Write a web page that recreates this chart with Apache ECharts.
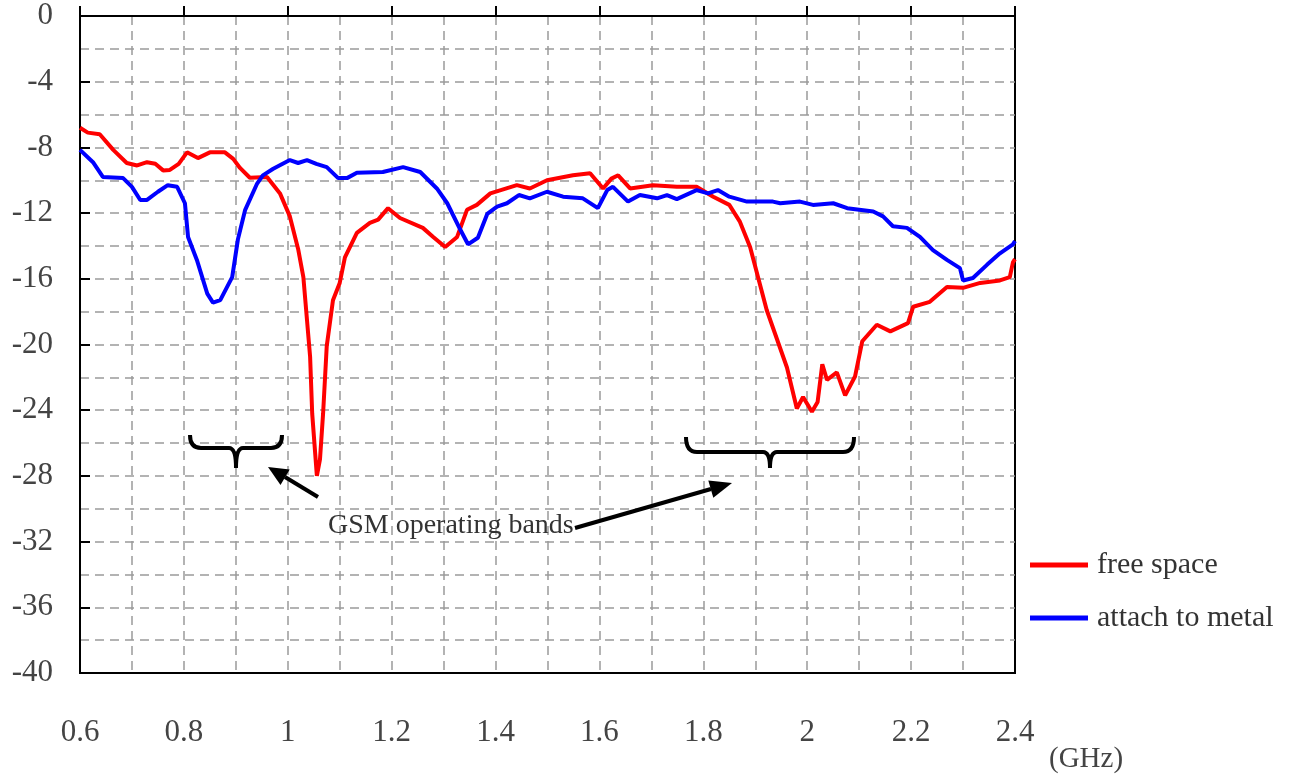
<!DOCTYPE html>
<html>
<head>
<meta charset="utf-8">
<script src="https://cdn.jsdelivr.net/npm/echarts@6/dist/echarts.min.js"></script>
<style>
  html, body { margin: 0; padding: 0; background: #fff; }
  #chart { width: 1299px; height: 780px; }
</style>
</head>
<body>
<div id="chart"></div>
<script>
// frequency (GHz) / return loss (dB)
var freeFreq = [0.600, 0.615, 0.638, 0.664, 0.690, 0.710, 0.729, 0.745, 0.760, 0.773, 0.790, 0.806, 0.827, 0.850, 0.879, 0.895, 0.908, 0.927, 0.960, 0.985,
  1.004, 1.020, 1.030, 1.043, 1.047, 1.056, 1.062, 1.068, 1.075, 1.087, 1.100, 1.110, 1.133, 1.158, 1.174, 1.193, 1.216, 1.260, 1.280, 1.303,
  1.326, 1.345, 1.364, 1.390, 1.441, 1.466, 1.499, 1.549, 1.582, 1.607, 1.623, 1.636, 1.659, 1.703, 1.749, 1.787, 1.819, 1.850, 1.870, 1.890,
  1.922, 1.961, 1.980, 1.992, 2.009, 2.020, 2.029, 2.038, 2.057, 2.073, 2.092, 2.106, 2.134, 2.160, 2.194, 2.204, 2.236, 2.269, 2.300, 2.333,
  2.371, 2.390, 2.396, 2.400];
var freeLoss = [-6.8, -7.1, -7.2, -8.15, -8.95, -9.1, -8.9, -9.0, -9.4, -9.37, -9.0, -8.3, -8.65, -8.3, -8.3, -8.7, -9.25, -9.85, -9.8, -10.8,
  -12.2, -14.2, -15.9, -20.75, -24.2, -28.0, -27.0, -24.2, -20.1, -17.3, -16.25, -14.7, -13.2, -12.6, -12.4, -11.7, -12.3, -12.9, -13.45, -14.06,
  -13.45, -11.8, -11.5, -10.8, -10.3, -10.5, -10.0, -9.7, -9.57, -10.5, -9.9, -9.7, -10.5, -10.3, -10.4, -10.4, -11.0, -11.5, -12.5, -14.06,
  -17.9, -21.4, -23.9, -23.2, -24.1, -23.5, -21.2, -22.15, -21.7, -23.1, -21.95, -19.8, -18.8, -19.2, -18.7, -17.7, -17.4, -16.5, -16.55, -16.25,
  -16.1, -15.9, -15.0, -14.8];

var metalFreq = [0.600, 0.625, 0.644, 0.683, 0.700, 0.716, 0.729, 0.750, 0.769, 0.787, 0.802, 0.808, 0.825, 0.845, 0.856, 0.870, 0.893, 0.904, 0.918, 0.941,
  0.952, 0.972, 1.004, 1.020, 1.037, 1.055, 1.075, 1.097, 1.114, 1.133, 1.183, 1.222, 1.255, 1.287, 1.307, 1.332, 1.347, 1.366, 1.384, 1.403,
  1.422, 1.445, 1.466, 1.499, 1.530, 1.568, 1.597, 1.615, 1.626, 1.655, 1.678, 1.711, 1.730, 1.749, 1.787, 1.809, 1.828, 1.850, 1.884, 1.934,
  1.948, 1.986, 2.011, 2.050, 2.077, 2.127, 2.146, 2.165, 2.192, 2.217, 2.242, 2.269, 2.294, 2.300, 2.319, 2.346, 2.371, 2.396, 2.400];
var metalLoss = [-8.15, -8.9, -9.8, -9.87, -10.4, -11.2, -11.2, -10.7, -10.3, -10.4, -11.4, -13.45, -14.85, -16.9, -17.45, -17.3, -15.9, -13.6, -11.8, -10.2,
  -9.7, -9.3, -8.77, -8.95, -8.77, -9.0, -9.2, -9.87, -9.87, -9.55, -9.5, -9.2, -9.5, -10.5, -11.4, -13.0, -13.9, -13.5, -12.05, -11.6,
  -11.4, -10.9, -11.1, -10.7, -11.0, -11.1, -11.7, -10.6, -10.4, -11.3, -10.9, -11.1, -10.9, -11.15, -10.6, -10.8, -10.6, -11.0, -11.3, -11.3,
  -11.4, -11.3, -11.5, -11.4, -11.7, -11.9, -12.2, -12.8, -12.9, -13.45, -14.25, -14.85, -15.35, -16.1, -15.95, -15.15, -14.45, -13.9, -13.7];

var seriesNames = ["free space", "attach to metal"];

var serif = "Liberation Serif";
var chartDom = echarts.init(document.getElementById("chart"));

function pairs(xs, ys) {
  return xs.map(function (x, i) { return [x, ys[i]]; });
}

// curly brace: ends at y0 (top), bar at y1, point at y2, from xa to xb
function brace(xa, xb, y0, y1, y2) {
  var xm = (xa + xb) / 2;
  var st = { stroke: "#000", lineWidth: 4, fill: null };
  return [
    { type: "bezierCurve", z: 10, shape: { x1: xa, y1: y0, cpx1: xa, cpy1: y1, x2: xa + 11, y2: y1 }, style: st },
    { type: "line", z: 10, shape: { x1: xa + 11, y1: y1, x2: xm - 7, y2: y1 }, style: st },
    { type: "bezierCurve", z: 10, shape: { x1: xm - 7, y1: y1, cpx1: xm, cpy1: y1, x2: xm, y2: y2 }, style: st },
    { type: "bezierCurve", z: 10, shape: { x1: xm, y1: y2, cpx1: xm, cpy1: y1, x2: xm + 7, y2: y1 }, style: st },
    { type: "line", z: 10, shape: { x1: xm + 7, y1: y1, x2: xb - 11, y2: y1 }, style: st },
    { type: "bezierCurve", z: 10, shape: { x1: xb - 11, y1: y1, cpx1: xb, cpy1: y1, x2: xb, y2: y0 }, style: st }
  ];
}

var gridDash = {
  show: true, showMinLine: false, showMaxLine: false,
  lineStyle: { color: "#9a9a9a", type: [9, 6], width: 1.5 }
};

var graphics = [].concat(
  brace(190, 282, 435, 448, 468),
  brace(686, 854, 437, 452, 468),
  [
    { type: "line", z: 10, shape: { x1: 318, y1: 497, x2: 285, y2: 477 }, style: { stroke: "#000", lineWidth: 4 } },
    { type: "polygon", z: 10, shape: { points: [[268, 467], [289.7, 469.6], [280.5, 485.0]] }, style: { fill: "#000" } },
    { type: "line", z: 10, shape: { x1: 575, y1: 528, x2: 711, y2: 489 }, style: { stroke: "#000", lineWidth: 4 } },
    { type: "polygon", z: 10, shape: { points: [[732, 483], [713.3, 497.7], [708.3, 480.4]] }, style: { fill: "#000" } },
    {
      type: "text", z: 10, left: 328, top: 512,
      style: { text: "GSM operating bands", font: "28px 'Liberation Serif'", fill: "#333" }
    },
    {
      type: "text", z: 10, left: 1049, top: 745,
      style: { text: "(GHz)", font: "29px 'Liberation Serif'", fill: "#444" }
    }
  ]
);

var option = {
  animation: false,
  backgroundColor: "#fff",
  grid: {
    left: 80, right: 284, top: 16, bottom: 107,
    show: true, borderColor: "#000", borderWidth: 2
  },
  legend: {
    orient: "vertical",
    left: 1030, top: 550,
    padding: 0,
    icon: "rect",
    itemWidth: 58, itemHeight: 5,
    itemGap: 23,
    data: seriesNames,
    textStyle: { fontFamily: serif, fontSize: 30, color: "#333", padding: [0, 0, 0, 4] }
  },
  xAxis: {
    type: "value",
    min: 0.6, max: 2.4, interval: 0.2,
    axisLine: { lineStyle: { color: "#000", width: 2 } },
    axisTick: { inside: true, length: 10, lineStyle: { color: "#000", width: 2 } },
    minorTick: { show: false, splitNumber: 2 },
    axisLabel: { fontFamily: serif, fontSize: 31, color: "#444", margin: 44 },
    splitLine: gridDash,
    minorSplitLine: gridDash
  },
  yAxis: {
    type: "value",
    min: -40, max: 0, interval: 4,
    axisLine: { show: true, lineStyle: { color: "#000", width: 2 } },
    axisTick: { show: true, inside: true, length: 10, lineStyle: { color: "#000", width: 2 } },
    minorTick: { show: false, splitNumber: 2 },
    axisLabel: { fontFamily: serif, fontSize: 31, color: "#444", margin: 27 },
    splitLine: gridDash,
    minorSplitLine: gridDash
  },
  series: [
    {
      name: seriesNames[0], type: "line", showSymbol: false, color: "#ff0000",
      lineStyle: { width: 4 }, data: pairs(freeFreq, freeLoss), z: 3
    },
    {
      name: seriesNames[1], type: "line", showSymbol: false, color: "#0000ff",
      lineStyle: { width: 4 }, data: pairs(metalFreq, metalLoss), z: 4
    }
  ],
  graphic: graphics
};
chartDom.setOption(option);
</script>
</body>
</html>
